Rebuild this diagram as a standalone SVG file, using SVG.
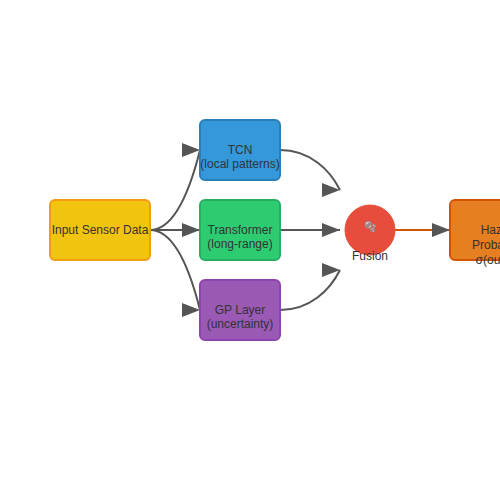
<svg xmlns="http://www.w3.org/2000/svg" width="500" height="500" viewBox="0 0 500 500">
<defs>
<marker id="arr" viewBox="0 0 18 14" refX="18" refY="7" markerWidth="18" markerHeight="14" markerUnits="userSpaceOnUse" orient="0">
<path d="M0,0 L18,7 L0,14 Z" fill="#555"/>
</marker>
</defs>
<style>
text{font-family:"Liberation Sans",Arial,sans-serif;font-size:12px;fill:#333;text-anchor:middle}
.box{stroke-width:2}
.edge{fill:none;stroke:#555;stroke-width:2;marker-end:url(#arr)}
</style>
<rect width="500" height="500" fill="#fff"/>
<g id="connectors">
<path class="edge" d="M150,230 C175,230 190,190 200,150"/>
<path class="edge" d="M150,230 L200,230"/>
<path class="edge" d="M150,230 C175,230 190,270 200,310"/>
<path class="edge" d="M280,150 C310,150 330,170 340,190"/>
<path class="edge" d="M280,230 L340,230"/>
<path class="edge" d="M280,310 C310,310 330,290 340,270"/>
<path d="M395,230 L450,230" fill="none" stroke="#d35400" stroke-width="2" marker-end="url(#arr)"/>
</g>
<g id="input">
<rect class="box" x="50" y="200" width="100" height="60" rx="5" fill="#f1c40f" stroke="#f39c12"/>
<text x="100" y="234">Input Sensor Data</text>
</g>
<g id="tcn">
<rect class="box" x="200" y="120" width="80" height="60" rx="5" fill="#3498db" stroke="#2980b9"/>
<text x="240" y="154">TCN</text>
<text x="240" y="168">(local patterns)</text>
</g>
<g id="transformer">
<rect class="box" x="200" y="200" width="80" height="60" rx="5" fill="#2ecc71" stroke="#27ae60"/>
<text x="240" y="234">Transformer</text>
<text x="240" y="248">(long-range)</text>
</g>
<g id="gp">
<rect class="box" x="200" y="280" width="80" height="60" rx="5" fill="#9b59b6" stroke="#8e44ad"/>
<text x="240" y="314">GP Layer</text>
<text x="240" y="328">(uncertainty)</text>
</g>
<g id="fusion">
<circle cx="370" cy="230" r="25" fill="#e74c3c" stroke="#e55039" stroke-width="1"/>
<text x="370" y="230" style="font-size:10px">🫧</text>
<text x="370" y="260">Fusion</text>
</g>
<g id="output">
<rect class="box" x="450" y="200" width="100" height="60" rx="5" fill="#e67e22" stroke="#d35400"/>
<text x="500" y="234">Hazard</text>
<text x="500" y="249">Probability</text>
<text x="500" y="264">σ(output)</text>
</g>
</svg>
